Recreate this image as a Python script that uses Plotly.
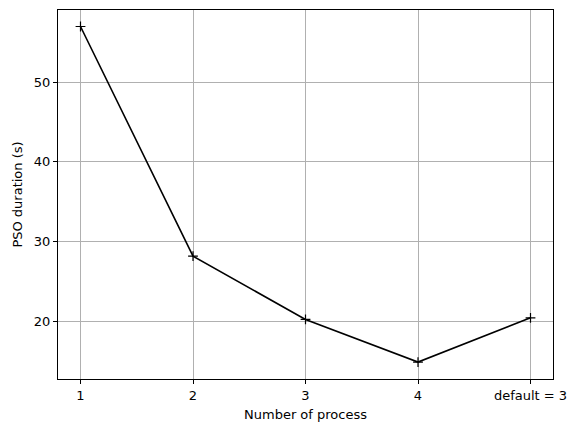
import plotly.graph_objects as go

categories = ["1", "2", "3", "4", "default = 3"]
durations = [57.0, 28.15, 20.2, 14.85, 20.4]
y_ticks = [20, 30, 40, 50]

fig = go.Figure()
fig.add_trace(go.Scatter(
    x=categories, y=durations, mode="lines+markers",
    line=dict(color="black", width=1.6),
    marker=dict(symbol="cross-thin", size=7, line=dict(color="black", width=1.2), color="black"),
    showlegend=False,
))

font = dict(family="DejaVu Sans", size=13, color="black")
axis_common = dict(
    showline=True, linecolor="black", linewidth=1, mirror=True,
    ticks="outside", ticklen=4, tickwidth=1, tickcolor="black",
    showgrid=True, gridcolor="#b0b0b0", gridwidth=1,
    zeroline=False,
    tickfont=font,
)

fig.update_xaxes(type="category", range=[-0.2, 4.2],
                 title=dict(text="Number of process", font=font, standoff=8),
                 **axis_common)
fig.update_yaxes(range=[12.72, 59.07], tickvals=y_ticks,
                 title=dict(text="PSO duration (s)", font=font, standoff=8),
                 **axis_common)

fig.update_layout(
    width=579, height=432,
    margin=dict(l=58, r=26, t=10, b=53),
    plot_bgcolor="white", paper_bgcolor="white",
)

fig.write_html("out.html")
